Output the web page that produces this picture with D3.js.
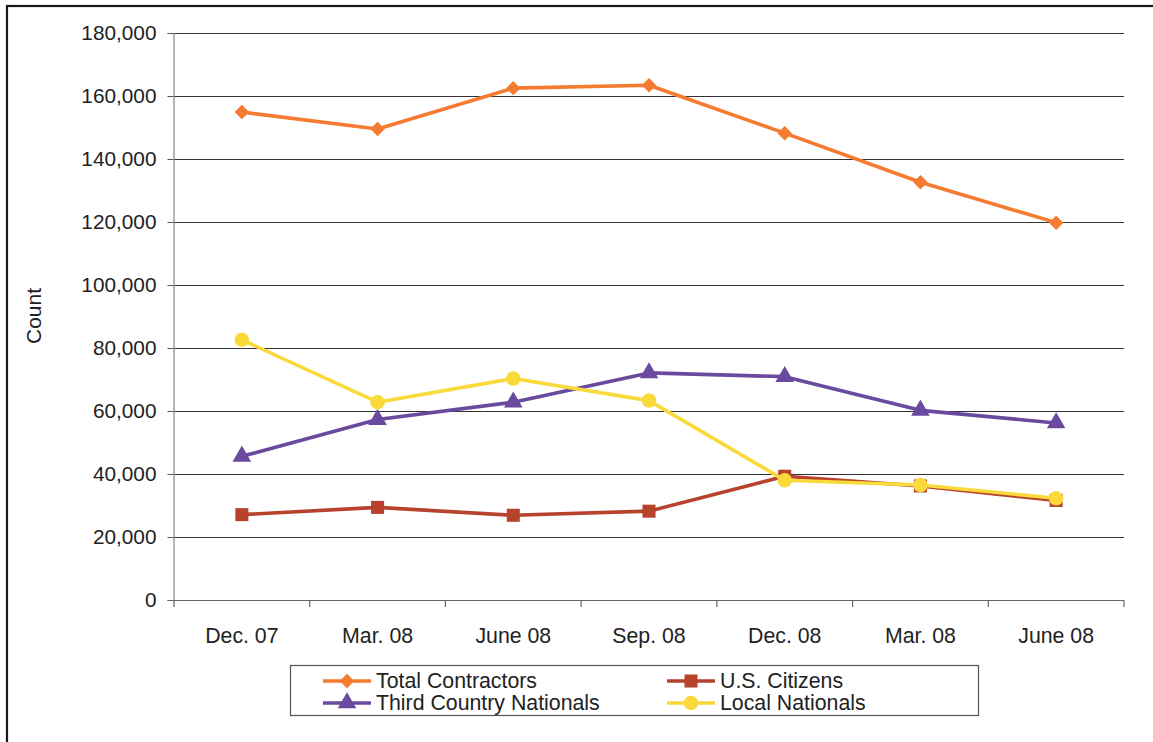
<!DOCTYPE html>
<html><head><meta charset="utf-8">
<script src="https://cdn.jsdelivr.net/npm/d3@7"></script>
<style>body{margin:0;background:#fff}svg{display:block}text{font-family:"Liberation Sans",Arial,sans-serif;fill:#222}</style>
</head><body><svg id="c" width="1153" height="742"></svg>
<script>
const categories = ["Dec. 07","Mar. 08","June 08","Sep. 08","Dec. 08","Mar. 08 ","June 08 "];
const totalContractors = [154900,149500,162500,163400,148200,132600,119800];
const usCitizens = [27100,29400,26900,28200,39300,36200,31600];
const thirdCountry = [45600,57300,62800,72100,70900,60200,56200];
const localNationals = [82600,62800,70300,63300,38000,36500,32300];
const yTicks = [0,20000,40000,60000,80000,100000,120000,140000,160000,180000];

const series = [
  {name:"Total Contractors", values: totalContractors, color:"#F47B30", sym:d3.symbolSquare, size:105, rot:45},
  {name:"U.S. Citizens", values: usCitizens, color:"#B7432D", sym:d3.symbolSquare, size:170, rot:0},
  {name:"Third Country Nationals", values: thirdCountry, color:"#6A4A9E", sym:d3.symbolTriangle, size:150, rot:0},
  {name:"Local Nationals", values: localNationals, color:"#FAD93A", sym:d3.symbolCircle, size:165, rot:0}
];
const drawOrder = [0,2,1,3];

const svg = d3.select("#c");
svg.append("rect").attr("x",7).attr("y",6).attr("width",1160).attr("height",760)
  .attr("fill","none").attr("stroke","#1a1a1a").attr("stroke-width",2.2);

const L=174, R=1124, T=33, B=600;
const x = d3.scaleBand().domain(categories).range([L,R]);
const y = d3.scaleLinear().domain([0,180000]).range([B,T]);

svg.append("g").selectAll("line").data(yTicks.filter(d=>d>0)).join("line")
  .attr("x1",L).attr("x2",R).attr("y1",d=>y(d)+0.5).attr("y2",d=>y(d)+0.5)
  .attr("stroke","#333").attr("stroke-width",1.2);

const ya = svg.append("g").attr("transform",`translate(${L-0.5},0)`)
  .call(d3.axisLeft(y).tickValues(yTicks).tickSize(6).tickPadding(11).tickFormat(d3.format(",")));
ya.select(".domain").attr("stroke","#888").attr("stroke-width",1.2);
ya.selectAll(".tick line").attr("stroke","#555");
ya.selectAll(".tick text").style("font-size","20.8px").attr("fill","#222");

const xa = svg.append("g").attr("transform",`translate(0,${B+0.5})`)
  .call(d3.axisBottom(x).tickSize(0).tickPadding(27));
xa.select(".domain").remove();
xa.selectAll(".tick text").style("font-size","21.3px").attr("fill","#222");
svg.append("line").attr("x1",L-6).attr("x2",R).attr("y1",B+0.5).attr("y2",B+0.5).attr("stroke","#666").attr("stroke-width",1.2);
svg.append("g").selectAll("line").data(categories.concat(["__end"])).join("line")
  .attr("x1",(d,i)=> i<categories.length ? x(d) : R).attr("x2",(d,i)=> i<categories.length ? x(d) : R)
  .attr("y1",B).attr("y2",B+7).attr("stroke","#666").attr("stroke-width",1.2);

svg.append("text").attr("transform",`translate(41,316) rotate(-90)`).attr("text-anchor","middle")
  .style("font-size","21px").text("Count");

const line = d3.line().x((d,i)=>x(categories[i])+x.bandwidth()/2).y(d=>y(d));
drawOrder.forEach(k=>{
  const s = series[k];
  svg.append("path").datum(s.values).attr("d",line).attr("fill","none")
    .attr("stroke",s.color).attr("stroke-width",3.6).attr("stroke-linejoin","round");
  svg.append("g").selectAll("path").data(s.values).join("path")
    .attr("transform",(d,i)=>`translate(${x(categories[i])+x.bandwidth()/2},${y(d)}) rotate(${s.rot})`)
    .attr("d",d3.symbol().type(s.sym).size(s.size)).attr("fill",s.color);
});

svg.append("rect").attr("x",290.5).attr("y",665.5).attr("width",688).attr("height",50)
  .attr("fill","#fff").attr("stroke","#555").attr("stroke-width",1.2);
const lpos = [[347,681],[691,681],[347,703],[691,703]];
series.forEach((s,k)=>{
  const [cx,cy]=lpos[k];
  svg.append("line").attr("x1",cx-24).attr("x2",cx+24).attr("y1",cy).attr("y2",cy)
    .attr("stroke",s.color).attr("stroke-width",3.6);
  svg.append("path").attr("transform",`translate(${cx},${cy}) rotate(${s.rot})`)
    .attr("d",d3.symbol().type(s.sym).size(s.size)).attr("fill",s.color);
  svg.append("text").attr("x",cx+29).attr("y",cy).attr("dy","0.35em")
    .style("font-size","21.3px").text(s.name);
});
</script></body></html>
